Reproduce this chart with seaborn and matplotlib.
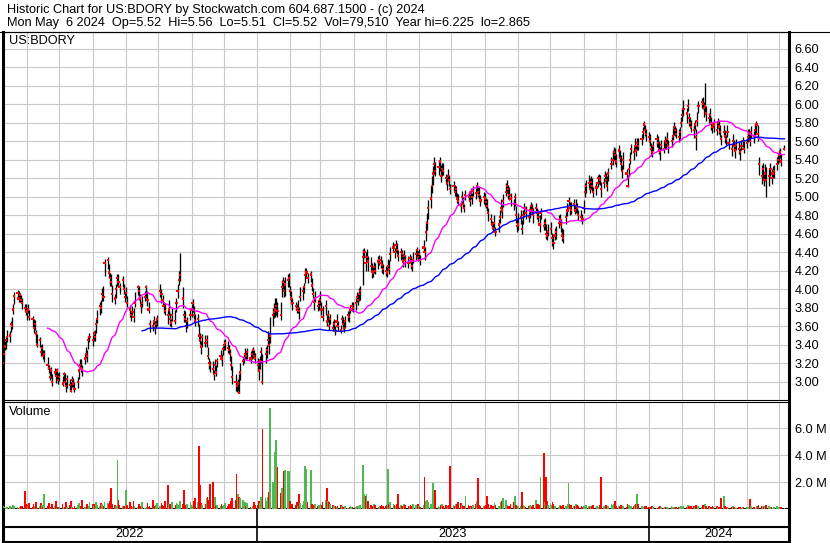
import numpy as np
import pandas as pd
import seaborn as sns
import matplotlib.pyplot as plt
import matplotlib.dates as mdates
from matplotlib.lines import Line2D

plt.rcParams['font.family'] = ['Liberation Sans', 'DejaVu Sans']
plt.rcParams['font.size'] = 9.2

# daily closes in cents, one row per month (May 2022 .. May 2024, weekdays)
close_c = [
    327, 320, 330, 338, 345, 348, 350, 362, 360, 378, 393, 396, 390, 394, 388, 385, 380, 376,
    375, 378, 370, 368, 358, 362, 352, 340, 345, 332, 336, 328, 330, 318, 315, 305, 312, 300, 310, 306, 312, 302,
    305, 298, 308, 300, 295, 303, 296, 290, 302, 298, 292, 300, 312, 318, 315, 314, 325, 330, 328, 345, 348,
    345, 352, 348, 362, 368, 382, 380, 395, 392, 428, 432, 418, 412, 408, 395, 390, 400, 412, 408, 402, 410, 400, 392,
    396, 385, 378, 372, 375, 370, 385, 402, 398, 390, 382, 385, 392, 402, 388, 378, 362, 360, 365, 358, 362, 368,
    398, 395, 388, 382, 376, 372, 378, 368, 364, 372, 366, 385, 398, 410, 415, 390, 372, 368, 360, 366, 372,
    378, 385, 372, 365, 368, 350, 345, 338, 348, 342, 345, 328, 320, 318, 314, 308, 318, 310, 322, 328, 325, 335,
    340, 342, 336, 334, 330, 318, 305, 300, 295, 298, 288, 310, 322, 326, 330, 328, 332, 325, 330, 334, 328, 326,
    318, 312, 322, 332, 300, 330, 334, 345, 340, 350, 372, 375, 378, 382, 376, 372, 402, 408, 398, 405, 410, 412,
    398, 390, 385, 382, 378, 380, 376, 392, 398, 402, 415, 418, 412, 416, 404, 395, 386, 390, 382, 385,
    388, 378, 370, 382, 365, 372, 360, 368, 358, 362, 355, 365, 360, 356, 368, 362, 358, 366, 372, 370, 378, 382, 380,
    385, 392, 388, 395, 398, 435, 440, 428, 435, 430, 425, 420, 418, 424, 420, 430, 432, 428, 426, 422,
    420, 418, 425, 422, 438, 445, 440, 448, 442, 436, 440, 438, 430, 436, 432, 428, 434, 430, 425, 432, 438, 442, 435,
    438, 432, 445, 440, 462, 472, 488, 498, 512, 525, 535, 528, 532, 538, 522, 530, 528, 520, 515, 522, 518, 508,
    512, 505, 508, 498, 495, 490, 500, 492, 488, 502, 500, 495, 504, 500, 506, 504, 512, 505, 502, 496, 500,
    498, 494, 490, 482, 476, 470, 466, 472, 462, 470, 478, 488, 485, 495, 505, 512, 508, 502, 498, 492, 500, 480, 468,
    470, 478, 465, 480, 488, 482, 478, 485, 490, 486, 480, 488, 482, 478, 470, 482, 468, 472, 460, 458, 462,
    465, 455, 450, 458, 462, 472, 476, 470, 458, 455, 478, 485, 495, 488, 486, 492, 485, 490, 488, 480, 478, 476,
    488, 505, 512, 515, 508, 516, 512, 505, 510, 515, 520, 518, 508, 515, 522, 518, 512, 525, 535, 540, 548, 545,
    538, 550, 542, 535, 528, 540, 525, 512, 530, 540, 552, 548, 555, 550, 558, 555, 562, 570, 578, 572, 568,
    565, 560, 552, 548, 555, 562, 558, 550, 548, 556, 552, 560, 558, 562, 555, 560, 566, 575, 572, 568, 565, 570, 580,
    588, 595, 590, 598, 585, 580, 575, 572, 578, 565, 582, 598, 602, 600, 596, 598, 590, 585, 588, 580, 575,
    578, 572, 580, 576, 570, 562, 570, 566, 562, 570, 558, 552, 560, 555, 550, 556, 552, 548, 555, 560, 552,
    558, 565, 568, 560, 570, 566, 572, 578, 568, 535, 522, 530, 518, 525, 518, 522, 530, 520, 525, 528, 535, 540,
    545, 548, 538, 552,
]

# cents from the close up to the day's high
high_up = [
    5, 10, 4, 6, 3, 8, 5, 4, 10, 6, 4, 3, 8, 2, 6, 5, 4, 8,
    4, 6, 8, 3, 10, 5, 4, 12, 3, 8, 5, 6, 4, 9, 3, 10, 4, 8, 5, 6, 3, 7,
    6, 8, 3, 9, 5, 4, 7, 10, 4, 6, 8, 5, 3, 6, 9, 4, 5, 8, 6, 4, 5,
    5, 3, 8, 6, 10, 4, 8, 6, 12, 5, 3, 9, 6, 8, 10, 5, 6, 4, 8, 5, 4, 6, 5,
    6, 8, 5, 4, 7, 10, 12, 3, 6, 5, 4, 8, 6, 3, 10, 8, 5, 4, 6, 8, 5, 4,
    8, 5, 6, 4, 8, 5, 10, 6, 4, 8, 12, 6, 8, 10, 24, 12, 5, 8, 6, 4, 8,
    6, 4, 10, 8, 5, 12, 8, 6, 4, 8, 5, 10, 6, 4, 8, 5, 6, 8, 4, 6, 5, 4,
    5, 4, 8, 6, 5, 10, 12, 8, 6, 5, 20, 10, 5, 4, 6, 5, 4, 8, 5, 4, 6, 5,
    8, 12, 6, 5, 30, 8, 6, 10, 12, 20, 8, 10, 12, 8, 10, 14, 8, 5, 12, 8, 6, 5,
    6, 8, 5, 4, 6, 8, 5, 10, 6, 5, 8, 5, 6, 4, 8, 6, 5, 8, 6, 5,
    10, 8, 12, 6, 8, 6, 10, 5, 8, 6, 5, 8, 6, 5, 4, 8, 6, 5, 4, 6, 5, 4, 6,
    6, 5, 8, 6, 5, 8, 5, 12, 8, 6, 10, 8, 6, 5, 8, 6, 5, 8, 6, 5,
    5, 6, 8, 10, 8, 6, 5, 5, 8, 6, 5, 4, 8, 6, 5, 8, 4, 6, 5, 8, 6, 4, 6,
    6, 5, 8, 6, 12, 10, 8, 14, 10, 8, 8, 10, 8, 5, 12, 6, 8, 5, 6, 8, 5, 6,
    5, 8, 4, 6, 8, 5, 6, 8, 4, 5, 6, 8, 5, 4, 6, 5, 4, 6, 8, 6, 5,
    6, 5, 8, 6, 5, 4, 6, 8, 5, 6, 8, 10, 6, 8, 10, 6, 5, 8, 6, 5, 4, 10, 8,
    12, 8, 10, 6, 5, 8, 6, 5, 4, 6, 8, 5, 6, 8, 10, 6, 8, 5, 10, 6, 8,
    8, 6, 10, 8, 6, 8, 5, 6, 8, 10, 6, 8, 5, 6, 8, 5, 6, 8, 5, 6, 8, 5,
    8, 10, 6, 8, 12, 6, 8, 5, 6, 8, 5, 6, 8, 5, 6, 8, 10, 6, 8, 10, 6, 8,
    8, 6, 8, 10, 6, 8, 5, 12, 6, 8, 5, 6, 8, 6, 5, 8, 6, 5, 4, 6, 5,
    5, 8, 6, 8, 5, 6, 8, 10, 6, 5, 8, 6, 5, 8, 6, 5, 8, 6, 5, 6, 8, 5, 6,
    8, 10, 6, 8, 5, 6, 8, 6, 5, 8, 10, 6, 5, 8, 6, 25, 8, 6, 8, 6, 5,
    6, 8, 5, 6, 8, 5, 8, 6, 5, 8, 6, 5, 8, 6, 5, 6, 8, 5, 6, 5, 8,
    6, 8, 5, 8, 6, 5, 8, 4, 10, 8, 12, 6, 8, 10, 14, 8, 6, 10, 8, 6, 8, 5,
    6, 5, 8, 4,
]

# cents from the close down to the day's low
low_dn = [
    6, 3, 8, 4, 10, 5, 7, 8, 3, 5, 9, 6, 4, 8, 3, 6, 5, 4,
    8, 4, 3, 9, 5, 6, 10, 3, 7, 4, 8, 3, 9, 4, 6, 3, 8, 5, 4, 7, 9, 4,
    4, 3, 8, 5, 6, 10, 5, 1, 8, 4, 3, 7, 9, 4, 5, 8, 6, 4, 7, 10, 5,
    6, 8, 4, 9, 5, 10, 6, 8, 5, 14, 10, 6, 8, 5, 9, 6, 10, 8, 5, 7, 8, 5, 6,
    5, 4, 8, 6, 3, 5, 4, 8, 10, 6, 8, 4, 5, 12, 6, 4, 8, 5, 3, 6, 4, 8,
    6, 10, 5, 8, 4, 10, 6, 8, 5, 6, 4, 10, 8, 5, 6, 10, 8, 4, 6, 8, 5,
    8, 10, 4, 5, 8, 6, 4, 8, 10, 5, 8, 4, 6, 8, 5, 6, 8, 4, 6, 5, 8, 6,
    6, 8, 5, 4, 8, 5, 8, 10, 6, 8, 0, 8, 4, 6, 5, 4, 8, 5, 6, 8, 4, 6,
    6, 10, 8, 12, 2, 10, 8, 6, 10, 8, 12, 6, 8, 10, 6, 5, 10, 8, 6, 12, 8, 10,
    5, 6, 8, 5, 4, 6, 8, 5, 10, 6, 8, 6, 5, 8, 6, 5, 8, 4, 6, 8,
    5, 6, 4, 10, 5, 8, 4, 6, 3, 5, 4, 6, 5, 3, 6, 5, 4, 8, 6, 5, 4, 6, 5,
    8, 6, 5, 8, 10, 30, 6, 8, 5, 10, 6, 8, 5, 6, 4, 8, 6, 5, 8, 6,
    6, 5, 4, 6, 8, 5, 6, 8, 4, 6, 8, 5, 6, 4, 8, 5, 6, 8, 5, 4, 6, 8, 5,
    5, 6, 4, 8, 10, 8, 12, 10, 8, 12, 10, 6, 8, 10, 6, 8, 5, 6, 8, 5, 6, 5,
    6, 4, 8, 5, 4, 6, 8, 4, 5, 6, 4, 5, 6, 8, 5, 6, 8, 5, 4, 6, 8,
    8, 6, 5, 8, 6, 5, 4, 6, 5, 8, 6, 5, 8, 6, 4, 8, 10, 6, 8, 6, 10, 8, 6,
    6, 8, 5, 10, 8, 6, 5, 8, 6, 5, 8, 4, 6, 5, 8, 6, 4, 8, 6, 5, 4,
    5, 8, 6, 5, 8, 6, 4, 8, 6, 5, 8, 6, 4, 8, 5, 6, 4, 8, 6, 5, 4, 6,
    6, 5, 8, 6, 4, 8, 6, 5, 8, 4, 6, 5, 8, 6, 5, 4, 6, 8, 5, 6, 8, 10,
    6, 8, 5, 6, 8, 10, 6, 2, 8, 5, 6, 8, 5, 6, 8, 5, 6, 8, 5, 6, 8,
    6, 5, 8, 5, 6, 8, 5, 4, 8, 6, 5, 8, 6, 5, 8, 6, 5, 8, 6, 5, 6, 8, 5,
    6, 8, 10, 5, 8, 6, 5, 8, 6, 15, 5, 8, 6, 5, 10, 6, 8, 5, 6, 8, 6,
    8, 5, 6, 8, 5, 6, 5, 8, 6, 5, 6, 8, 5, 6, 8, 5, 6, 8, 5, 6, 5,
    5, 6, 8, 5, 6, 8, 5, 10, 8, 12, 8, 10, 6, 8, 18, 10, 8, 6, 5, 8, 6, 5,
    8, 6, 5, 1,
]

# daily volume, thousands of shares
vol_k = [
    120, 80, 200, 150, 90, 180, 250, 130, 60, 300, 220, 180, 90, 140, 260, 200, 1350, 350,
    300, 200, 420, 150, 380, 250, 520, 90, 200, 450, 300, 180, 1100, 250, 480, 120, 90, 350, 200, 630, 80, 160,
    120, 400, 90, 150, 550, 180, 300, 620, 150, 90, 200, 300, 480, 120, 250, 700, 150, 90, 380, 220, 500,
    350, 250, 400, 500, 300, 200, 450, 380, 250, 550, 480, 350, 600, 1550, 400, 300, 250, 3640, 650, 300, 250, 200, 250,
    1400, 300, 550, 200, 150, 600, 250, 120, 390, 150, 200, 530, 90, 180, 450, 120, 200, 660, 90, 250, 300, 450,
    200, 450, 300, 250, 580, 1800, 400, 350, 250, 500, 300, 420, 350, 280, 600, 400, 1400, 300, 250, 350, 500,
    300, 250, 600, 800, 500, 4680, 1800, 450, 300, 350, 800, 900, 700, 1860, 2000, 350, 900, 250, 300, 200, 400, 250,
    300, 450, 200, 400, 350, 600, 800, 700, 2600, 1100, 900, 800, 700, 300, 550, 200, 450, 120, 100, 250, 500, 300,
    300, 600, 450, 900, 5940, 800, 600, 900, 1300, 7500, 2000, 1300, 4200, 5100, 3100, 1200, 1550, 900, 2800, 2900, 2850, 2800,
    600, 400, 350, 300, 500, 250, 1100, 450, 300, 600, 3200, 3000, 500, 2900, 400, 300, 250, 350, 200, 300,
    400, 300, 500, 700, 1550, 600, 500, 400, 300, 250, 200, 150, 200, 300, 250, 150, 120, 200, 100, 150, 250, 180, 120,
    150, 200, 100, 250, 300, 3300, 1100, 1000, 1100, 600, 300, 250, 200, 350, 300, 150, 200, 250, 300, 200,
    250, 300, 3000, 400, 500, 350, 300, 250, 400, 1100, 300, 250, 200, 350, 300, 250, 200, 300, 250, 400, 300, 250, 350,
    200, 150, 300, 2400, 600, 650, 500, 400, 350, 1900, 500, 1400, 200, 150, 300, 350, 250, 300, 200, 150, 300, 3200,
    300, 200, 350, 400, 500, 450, 300, 200, 250, 960, 300, 200, 150, 250, 300, 400, 600, 2300, 300, 250, 200,
    250, 300, 960, 400, 300, 250, 200, 450, 300, 250, 200, 500, 600, 800, 700, 300, 250, 200, 350, 500, 960, 300, 250,
    250, 200, 1250, 300, 200, 150, 250, 300, 200, 150, 300, 700, 400, 350, 300, 2400, 4160, 500, 2400, 600, 300,
    300, 500, 400, 250, 200, 150, 300, 250, 200, 300, 250, 350, 1900, 400, 300, 250, 200, 350, 300, 250, 200, 150,
    200, 250, 300, 200, 150, 250, 200, 300, 250, 200, 150, 300, 2400, 250, 200, 300, 250, 200, 350, 300, 400, 600,
    250, 200, 150, 300, 200, 250, 150, 400, 300, 200, 250, 200, 300, 350, 1100, 400, 250, 200, 150, 250, 200,
    150, 100, 120, 200, 150, 100, 80, 150, 200, 120, 100, 150, 180, 120, 100, 200, 150, 120, 100, 180, 150, 120, 200,
    250, 200, 150, 300, 200, 150, 250, 200, 150, 300, 200, 250, 180, 300, 200, 350, 250, 200, 150, 180, 200,
    150, 200, 120, 180, 150, 840, 960, 200, 150, 120, 100, 150, 200, 120, 100, 80, 150, 120, 100, 150, 120,
    120, 100, 150, 740, 200, 150, 100, 250, 200, 300, 250, 200, 150, 250, 300, 200, 150, 120, 100, 150, 200, 120,
    100, 150, 120, 80,
]

price_ticks = [3.00, 3.20, 3.40, 3.60, 3.80, 4.00, 4.20, 4.40, 4.60, 4.80,
               5.00, 5.20, 5.40, 5.60, 5.80, 6.00, 6.20, 6.40, 6.60]
vol_ticks = [2.0, 4.0, 6.0]
year_labels = ['2022', '2023', '2024']
year_starts = ['2023-01-01', '2024-01-01']

header1 = 'Historic Chart for US:BDORY by Stockwatch.com 604.687.1500 - (c) 2024'
header2 = ('Mon May  6 2024  Op=5.52  Hi=5.56  Lo=5.51  Cl=5.52  '
           'Vol=79,510  Year hi=6.225  lo=2.865')

assert len(close_c) == len(high_up) == len(low_dn) == len(vol_k)

dates = pd.bdate_range('2022-05-06', periods=len(close_c))
df = pd.DataFrame({'date': dates, 'close': np.array(close_c) / 100})
df['high'] = df['close'] + np.array(high_up) / 100
df['low'] = df['close'] - np.array(low_dn) / 100
df['vol'] = np.array(vol_k) / 1000
df['up'] = df['close'].diff().fillna(0) >= 0
df['ma_fast'] = df['close'].rolling(32).mean()
df['ma_slow'] = df['close'].rolling(96).mean()

W, H = 830, 543
fig = plt.figure(figsize=(W / 100, H / 100), dpi=100)


def box(x0, y0, x1, y1):
    return [x0 / W, 1 - y1 / H, (x1 - x0) / W, (y1 - y0) / H]


ax = fig.add_axes(box(3, 32, 789, 400))
axv = fig.add_axes(box(3, 402, 789, 509))
axd = fig.add_axes(box(3, 509, 789, 542))

t0 = pd.Timestamp('2022-05-09 12:00')
t1 = pd.Timestamp('2024-05-10 07:00')
grid_c = '#c8c8c8'

# price panel
ax.vlines(df['date'], df['low'], df['high'], color='black', lw=0.95, zorder=3)
sns.scatterplot(data=df, x='date', y='close', ax=ax, marker='s', s=2.5,
                color='red', edgecolor='none', zorder=4)
sns.lineplot(data=df, x='date', y='ma_fast', ax=ax, color='#ff00ff', lw=1, zorder=5)
sns.lineplot(data=df, x='date', y='ma_slow', ax=ax, color='#0000ff', lw=1, zorder=5)
ax.set_ylim(2.802, 6.781)
ax.set_yticks(price_ticks)
ax.set_yticklabels([f'{v:.2f}' for v in price_ticks])
ax.text(6 / 786, 1 - 9 / 368, 'US:BDORY', transform=ax.transAxes, va='center', ha='left')

# volume panel
green, red = '#50b850', '#ff0000'
axv.bar(df['date'], df['vol'], width=1.6, color=np.where(df['up'], green, red), zorder=3)
axv.set_ylim(0, 7.95)
axv.set_yticks(vol_ticks)
axv.set_yticklabels([f'{v:.1f} M' for v in vol_ticks])
axv.text(6 / 786, 1 - 10 / 107, 'Volume', transform=axv.transAxes, va='center', ha='left')

for a in (ax, axv):
    a.set_xlim(t0, t1)
    a.xaxis.set_major_locator(mdates.MonthLocator())
    a.tick_params(axis='x', length=0, labelbottom=False)
    a.yaxis.tick_right()
    a.tick_params(axis='y', length=0, pad=4, labelsize=9.2)
    a.grid(True, color=grid_c, lw=0.8)
    a.set_axisbelow(True)
    a.set_xlabel('')
    a.set_ylabel('')
    for s in ('left', 'right'):
        a.spines[s].set_linewidth(2.2)
    a.spines['top'].set_linewidth(0.8)
    a.spines['bottom'].set_linewidth(0.8)
axv.spines['bottom'].set_linewidth(1.5)

# year band
axd.set_xlim(t0, t1)
axd.set_ylim(0, 1)
axd.set_xticks([])
axd.set_yticks([])
axd.spines['top'].set_visible(False)
axd.spines['bottom'].set_linewidth(1.5)
for s in ('left', 'right'):
    axd.spines[s].set_linewidth(2.2)
axd.axhline(15 / 33, color='black', lw=1.5)
bounds = [t0] + [pd.Timestamp(d) for d in year_starts] + [t1]
for d in year_starts:
    axd.axvline(pd.Timestamp(d), color='black', lw=1.2)
for lab, a0, a1 in zip(year_labels, bounds[:-1], bounds[1:]):
    axd.text(a0 + (a1 - a0) / 2, 8 / 33, lab, ha='center', va='center')

# header
fig.text(7 / W, 1 - 10 / H, header1, va='center', ha='left')
fig.text(7 / W, 1 - 23 / H, header2, va='center', ha='left')
fig.add_artist(Line2D([0, 1], [1 - 31.5 / H] * 2, color='black', lw=0.8,
                      transform=fig.transFigure))

fig.savefig('out.png', dpi=100)
